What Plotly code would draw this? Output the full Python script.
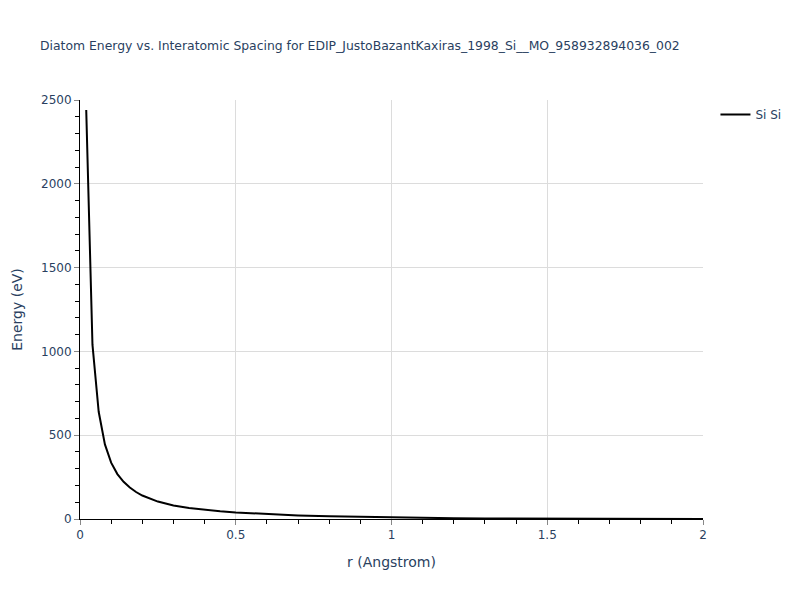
import plotly.graph_objects as go

r_values = [0.02, 0.04, 0.06, 0.08, 0.10, 0.12, 0.14, 0.16, 0.18, 0.20,
            0.25, 0.30, 0.35, 0.40, 0.45, 0.50, 0.6, 0.7, 0.8, 0.9, 1.0,
            1.1, 1.2, 1.3, 1.4, 1.5, 1.6, 1.7, 1.8, 1.9, 2.0]
energy_values = [2440, 1040, 640, 445, 336, 268, 222, 188, 161, 140,
                 104, 80, 65, 54, 46, 39, 28, 21, 16, 12, 8.5,
                 6, 4.5, 3.3, 2.4, 1.8, 1.4, 1.1, 0.9, 0.7, 0.6]
series_name = "Si Si"
title_text = "Diatom Energy vs. Interatomic Spacing for EDIP_JustoBazantKaxiras_1998_Si__MO_958932894036_002"

FONT = "DejaVu Sans"
TXT = "#2a3f5f"
W, H = 784, 584

fig = go.Figure()
fig.add_trace(go.Scatter(x=r_values, y=energy_values, mode="lines", name=series_name,
                         line=dict(color="black", width=2)))

axis_common = dict(
    showline=True, linecolor="black", linewidth=1,
    ticks="outside", ticklen=5, tickcolor="#888",
    showgrid=True, gridcolor="#dcdcdc", gridwidth=1,
    zeroline=False, mirror=False,
    tickfont=dict(family=FONT, size=12, color=TXT),
)

fig.update_layout(
    template="plotly_white",
    width=W, height=H,
    font=dict(family=FONT, color=TXT),
    title=dict(text=title_text, x=32 / W, xanchor="left",
               y=1 - 38 / H, yanchor="middle",
               font=dict(family=FONT, size=12.4, color=TXT)),
    showlegend=True,
    legend=dict(font=dict(family=FONT, size=12, color=TXT)),
    margin=dict(l=72, r=89, t=92, b=73, autoexpand=False),
    plot_bgcolor="white", paper_bgcolor="white",
)
fig.update_xaxes(title=dict(text="r (Angstrom)", font=dict(family=FONT, size=14, color=TXT)),
                 range=[0, 2], dtick=0.5,
                 minor=dict(ticks="outside", ticklen=4, tickcolor="black", dtick=0.1, showgrid=False),
                 **axis_common)
fig.update_yaxes(title=dict(text="Energy (eV)", font=dict(family=FONT, size=14, color=TXT)),
                 range=[0, 2500], dtick=500,
                 minor=dict(ticks="outside", ticklen=4, tickcolor="black", dtick=100, showgrid=False),
                 **axis_common)

fig.write_html("out.html")
